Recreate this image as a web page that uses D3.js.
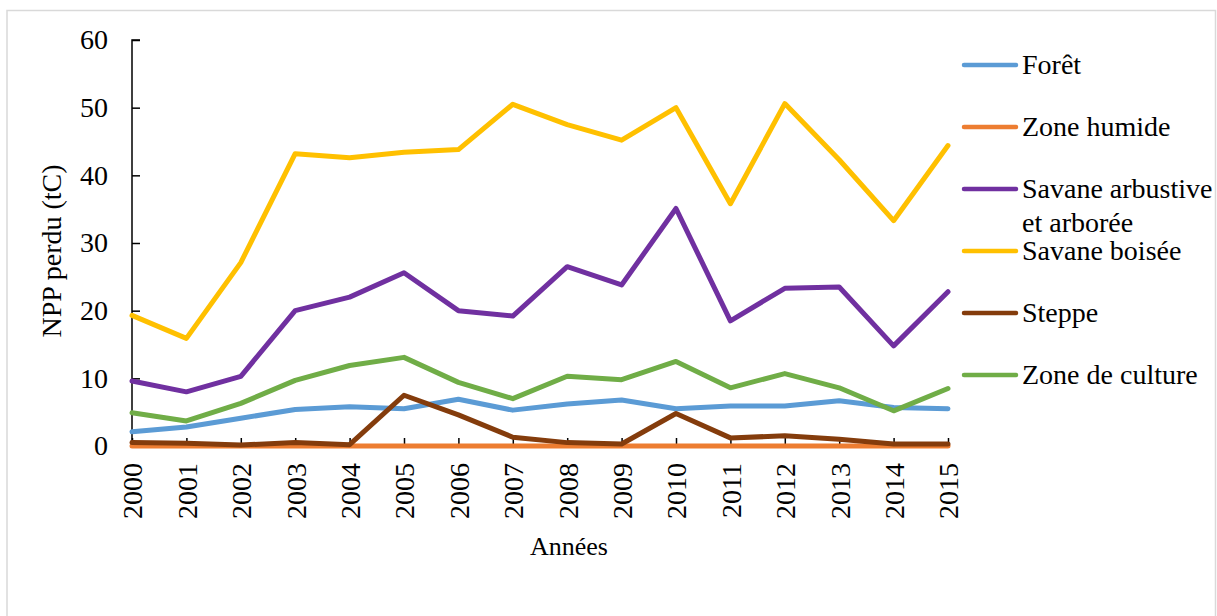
<!DOCTYPE html>
<html>
<head>
<meta charset="utf-8">
<script src="https://cdn.jsdelivr.net/npm/d3@7"></script>
<style>
  html, body { margin: 0; padding: 0; background: #fff; }
  svg { display: block; }
</style>
</head>
<body>
<svg id="chart" width="1217" height="616"></svg>
<script>
const years = [2000, 2001, 2002, 2003, 2004, 2005, 2006, 2007, 2008, 2009, 2010, 2011, 2012, 2013, 2014, 2015];
const yTicks = [0, 10, 20, 30, 40, 50, 60];

const foret        = [2.1, 2.8, 4.1, 5.4, 5.8, 5.5, 6.9, 5.3, 6.2, 6.8, 5.5, 5.9, 5.9, 6.7, 5.7, 5.5];
const zoneHumide   = [0, 0, 0, 0, 0, 0, 0, 0, 0, 0, 0, 0, 0, 0, 0, 0];
const savaneArb    = [9.6, 8.0, 10.3, 20.0, 22.0, 25.6, 20.0, 19.2, 26.5, 23.8, 35.1, 18.5, 23.3, 23.5, 14.8, 22.8];
const savaneBoisee = [19.3, 15.9, 27.1, 43.2, 42.6, 43.4, 43.8, 50.5, 47.5, 45.2, 50.0, 35.8, 50.6, 42.3, 33.3, 44.4];
const steppe       = [0.5, 0.4, 0.15, 0.5, 0.2, 7.5, 4.6, 1.3, 0.5, 0.3, 4.8, 1.2, 1.5, 1.0, 0.3, 0.3];
const zoneCulture  = [4.9, 3.7, 6.3, 9.7, 11.9, 13.1, 9.4, 7.0, 10.3, 9.8, 12.5, 8.6, 10.7, 8.6, 5.2, 8.5];

const seriesNames  = ["Forêt", "Zone humide", "Savane arbustive et arborée", "Savane boisée", "Steppe", "Zone de culture"];
const seriesValues = [foret, zoneHumide, savaneArb, savaneBoisee, steppe, zoneCulture];
const seriesColors = ["#5B9BD5", "#ED7D31", "#7030A0", "#FFC000", "#843C0C", "#70AD47"];

const FONT = "Liberation Serif";
const svg = d3.select("#chart");

// outer border
svg.append("rect").attr("x", 7).attr("y", 10.5).attr("width", 1208.5).attr("height", 620)
  .attr("fill", "#fff").attr("stroke", "#d9d9d9").attr("stroke-width", 1.5);

const x0 = 132, x1 = 948, yTop = 40, yBot = 446;
const x = d3.scalePoint().domain(years).range([x0, x1]);
const y = d3.scaleLinear().domain([0, 60]).range([yBot, yTop]);

const fs = 28;

// Y axis
const yAxis = d3.axisRight(y).tickValues(yTicks).tickSize(8).tickFormat(d3.format("d"));
const gy = svg.append("g").attr("transform", `translate(${x0},0)`).call(yAxis);
gy.select(".domain").attr("stroke", "#000").attr("stroke-width", 1.5).attr("d", `M8,${yTop}H0V${yBot}`);
gy.selectAll(".tick line").attr("stroke", "#000").attr("stroke-width", 1.5);
gy.selectAll(".tick text").attr("x", -24).attr("text-anchor", "end")
  .attr("font-size", fs).style("font-family", FONT).attr("fill", "#000");

// X axis
const xAxis = d3.axisTop(x).tickValues(years).tickSize(8).tickFormat(d => d);
const gx = svg.append("g").attr("transform", `translate(0,${yBot})`).call(xAxis);
gx.select(".domain").attr("stroke", "#000").attr("stroke-width", 1.5).attr("d", `M${x0},0H${x1}`);
gx.selectAll(".tick line").attr("stroke", "#000").attr("stroke-width", 1.5);
gx.selectAll(".tick text")
  .attr("font-size", fs).style("font-family", FONT).attr("fill", "#000")
  .attr("text-anchor", "end").attr("x", 0).attr("y", 0).attr("dy", "0.35em")
  .attr("transform", "translate(0,17) rotate(-90)");

// Axis titles
svg.append("text").attr("x", 569).attr("y", 555).attr("text-anchor", "middle")
  .attr("font-size", 26).style("font-family", FONT).text("Années");
svg.append("text").attr("transform", "translate(61,251) rotate(-90)").attr("text-anchor", "middle")
  .attr("font-size", fs).style("font-family", FONT).text("NPP perdu (tC)");

// Lines
const line = d3.line().x((d, i) => x(years[i])).y(d => y(d));
seriesValues.forEach((vals, k) => {
  svg.append("path").datum(vals)
    .attr("d", line)
    .attr("fill", "none")
    .attr("stroke", seriesColors[k])
    .attr("stroke-width", 5)
    .attr("stroke-linejoin", "round")
    .attr("stroke-linecap", "round");
});

// Legend
const legendY = [65, 127, 189, 251, 313, 375];
seriesNames.forEach((name, k) => {
  const g = svg.append("g").attr("transform", `translate(0,${legendY[k]})`);
  g.append("line").attr("x1", 964).attr("x2", 1016).attr("y1", 0).attr("y2", 0)
    .attr("stroke", seriesColors[k]).attr("stroke-width", 4.5).attr("stroke-linecap", "round");
  const t = g.append("text").attr("x", 1022).attr("y", 0).attr("dy", "0.32em")
    .attr("font-size", fs).style("font-family", FONT);
  if (name === "Savane arbustive et arborée") {
    t.append("tspan").attr("x", 1022).text("Savane arbustive");
    t.append("tspan").attr("x", 1022).attr("dy", 34).text("et arborée");
  } else {
    t.text(name);
  }
});
</script>
</body>
</html>
